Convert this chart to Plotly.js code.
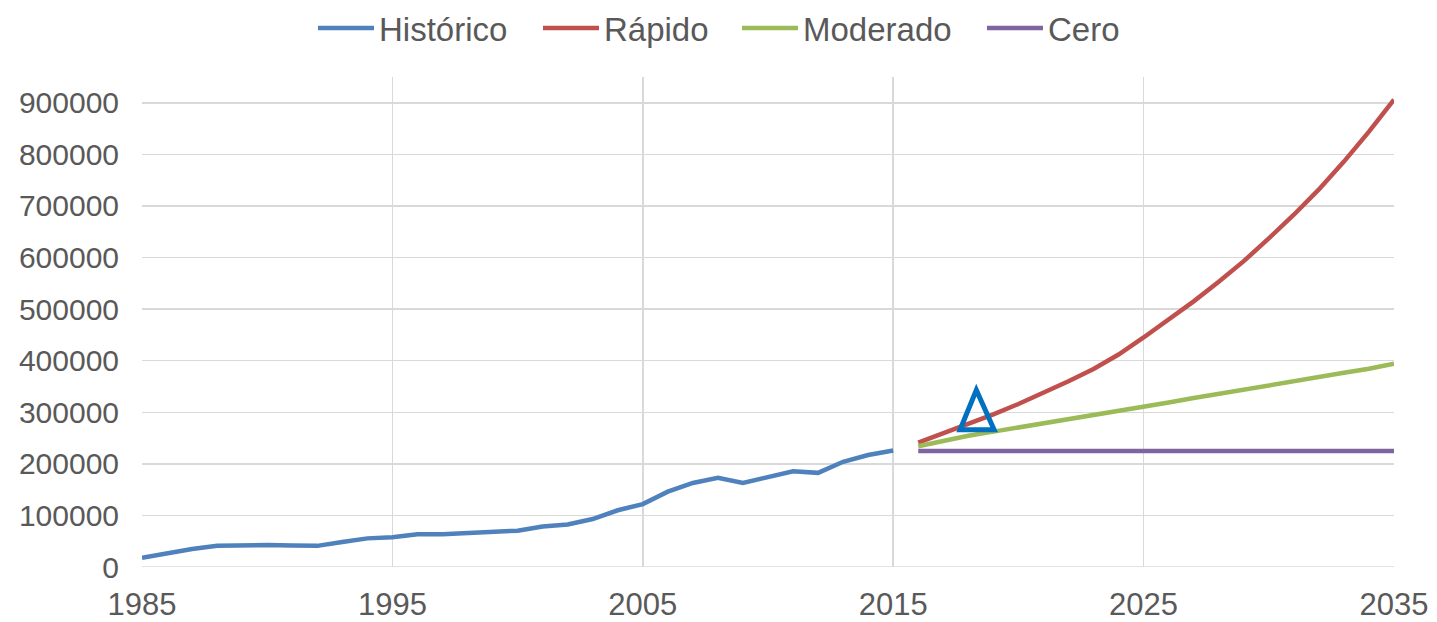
<!DOCTYPE html>
<html>
<head>
<meta charset="utf-8">
<script src="https://cdn.plot.ly/plotly-3.0.1.min.js"></script>
<style>
html,body{margin:0;padding:0;background:#fff;}
#chart{width:1437px;height:622px;}
</style>
</head>
<body>
<div id="chart"></div>
<script>
var histYears = [1985,1986,1987,1988,1989,1990,1991,1992,1993,1994,1995,1996,1997,1998,1999,2000,2001,2002,2003,2004,2005,2006,2007,2008,2009,2010,2011,2012,2013,2014,2015];
var histValues = [18000,27000,35000,41000,42500,42500,41500,41000,48500,55500,57500,63500,63500,65500,67500,70500,78500,82500,93000,110000,122000,146000,163000,173000,163000,174000,185500,182500,204000,217000,226000];

var projYears = [2016,2017,2018,2019,2020,2021,2022,2023,2024,2025,2026,2027,2028,2029,2030,2031,2032,2033,2034,2035];
var rapidoValues = [241000,259000,277000,296000,316000,337000,360000,384000,412000,445000,480000,515000,553000,593000,637000,683000,732000,786000,844000,906000];
var moderadoValues = [234000,245000,254500,262500,270500,279000,286500,293000,301500,310500,319000,327500,336000,344000,352500,360500,369000,376500,384500,394000];
var ceroValues = [225000,225000,225000,225000,225000,225000,225000,225000,225000,225000,225000,225000,225000,225000,225000,225000,225000,225000,225000,225000];

var seriesNames = ['Histórico','Rápido','Moderado','Cero'];
var seriesColors = ['#4F81BD','#C0504D','#9BBB59','#8064A2'];
var legendIds = ['legend','legend2','legend3','legend4'];

var lw = 4.5;
var allX = [histYears, projYears, projYears, projYears];
var allY = [histValues, rapidoValues, moderadoValues, ceroValues];
var traces = seriesNames.map(function(n, i){
  return {x: allX[i], y: allY[i], name: n, legend: legendIds[i], type:'scatter', mode:'lines',
          line:{color: seriesColors[i], width: lw}};
});

var txt = '#595959';
var W = 1437;
var legendStarts = [313, 538, 737, 982];
function mkLegend(px){
  return {
    orientation:'h', xref:'container', yref:'container',
    x: px / W, xanchor:'left', y:1, yanchor:'top',
    font:{size:33, color:txt}, itemwidth:56,
    bgcolor:'rgba(0,0,0,0)'
  };
}
var layout = {
  width: 1437, height: 622,
  margin: {l:142, r:43, t:77, b:55},
  paper_bgcolor:'#ffffff', plot_bgcolor:'#ffffff',
  font: {family:'Liberation Sans, Arial, sans-serif', color: txt},
  showlegend: true,
  legend: mkLegend(legendStarts[0]),
  legend2: mkLegend(legendStarts[1]),
  legend3: mkLegend(legendStarts[2]),
  legend4: mkLegend(legendStarts[3]),
  xaxis: {
    range:[1985,2035], tick0:1985, dtick:10, tickmode:'linear',
    showgrid:true, gridcolor:'#D9D9D9', gridwidth:1.5,
    zeroline:false, showline:false, ticks:'',
    tickfont:{size:31, color:txt}, ticklabelstandoff:16, fixedrange:true
  },
  yaxis: {
    range:[0,950000], tick0:0, dtick:100000, tickmode:'linear',
    tickformat:'d',
    showgrid:true, gridcolor:'#D9D9D9', gridwidth:1.5,
    zeroline:false, showline:false, ticks:'',
    tickfont:{size:30, color:txt}, ticklabelstandoff:22, fixedrange:true
  },
  shapes: [
    {type:'line', xref:'paper', yref:'y', x0:0, x1:1, y0:0, y1:0, line:{color:'#D9D9D9', width:1.5}, layer:'below'},
    {type:'path', xref:'x', yref:'y', path:'M 2018.32,343000 L 2019.03,266000 L 2017.67,266000 Z',
     line:{color:'#0070C0', width:5}, fillcolor:'rgba(0,0,0,0)', layer:'above'}
  ]
};

Plotly.newPlot('chart', traces, layout, {displayModeBar:false, staticPlot:true});
</script>
</body>
</html>
